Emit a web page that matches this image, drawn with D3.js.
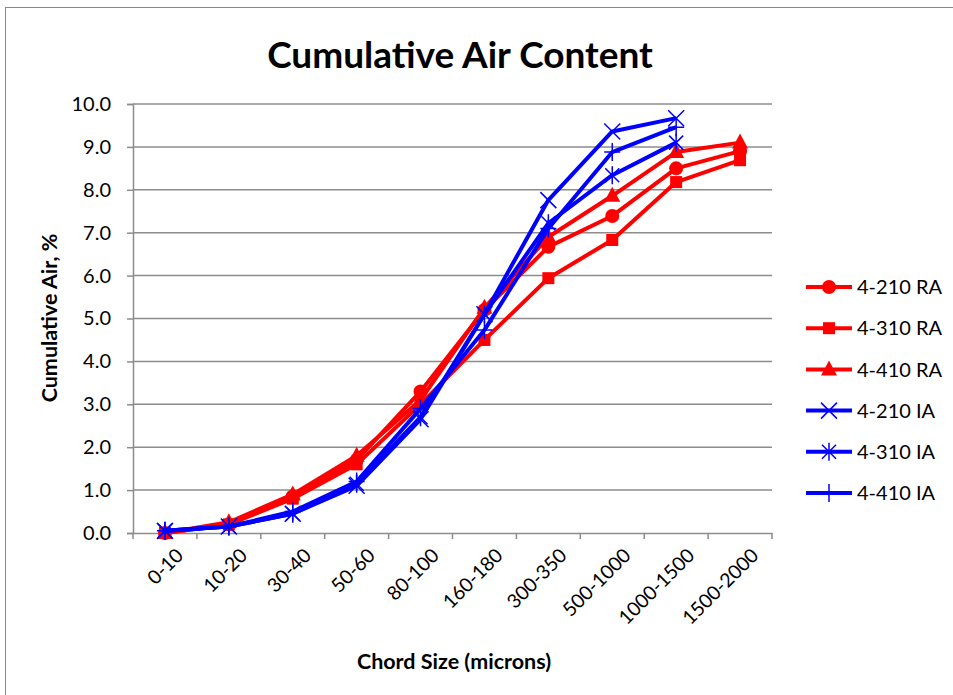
<!DOCTYPE html>
<html>
<head>
<meta charset="utf-8">
<script src="https://cdn.jsdelivr.net/npm/d3@7"></script>
<style>
  body { margin: 0; background: #fff; }
  svg { font-family: Lato, "Open Sans", sans-serif; }
</style>
</head>
<body>
<svg width="953" height="695"></svg>
<script>
var categories = ["0-10", "10-20", "30-40", "50-60", "80-100", "160-180", "300-350", "500-1000", "1000-1500", "1500-2000"];
var ra210 = [0.0, 0.2, 0.85, 1.7, 3.3, 5.2, 6.67, 7.39, 8.5, 8.9];
var ra310 = [0.0, 0.2, 0.8, 1.6, 3.0, 4.5, 5.94, 6.83, 8.18, 8.69];
var ra410 = [0.0, 0.25, 0.9, 1.8, 3.1, 5.25, 6.9, 7.86, 8.88, 9.1];
var ia210 = [0.05, 0.15, 0.45, 1.1, 2.65, 5.1, 7.76, 9.36, 9.67];
var ia310 = [0.05, 0.15, 0.45, 1.15, 2.7, 5.1, 7.22, 8.34, 9.1];
var ia410 = [0.05, 0.15, 0.5, 1.2, 2.9, 4.73, 7.1, 8.88, 9.46];
var yTicks = [0, 1, 2, 3, 4, 5, 6, 7, 8, 9, 10];

var series = [
    {name: "4-210 RA", values: ra210, color: "#ff0000", marker: "circle"},
    {name: "4-310 RA", values: ra310, color: "#ff0000", marker: "square"},
    {name: "4-410 RA", values: ra410, color: "#ff0000", marker: "triangle"},
    {name: "4-210 IA", values: ia210, color: "#0000ff", marker: "x"},
    {name: "4-310 IA", values: ia310, color: "#0000ff", marker: "star"},
    {name: "4-410 IA", values: ia410, color: "#0000ff", marker: "plus"}
];

var svg = d3.select("svg");
var plotLeft = 133, plotRight = 772, plotTop = 104, plotBottom = 533;

// outer frame
svg.append("rect").attr("x", 5.5).attr("y", 7.5).attr("width", 960).attr("height", 700)
    .attr("fill", "none").attr("stroke", "#888").attr("stroke-width", 1);

var x = d3.scaleBand().domain(categories).range([plotLeft, plotRight]);
var y = d3.scaleLinear().domain([0, 10]).range([plotBottom, plotTop]);

// gridlines
svg.append("g").selectAll("line").data(yTicks.slice(1)).enter().append("line")
    .attr("x1", plotLeft).attr("x2", plotRight)
    .attr("y1", d => y(d)).attr("y2", d => y(d))
    .attr("stroke", "#8c8c8c").attr("stroke-width", 1.5);

// y axis
var yAxis = svg.append("g").attr("transform", "translate(" + plotLeft + ",0)")
    .call(d3.axisLeft(y).tickValues(yTicks).tickFormat(d3.format(".1f")).tickSize(6).tickPadding(16));
yAxis.select(".domain").attr("stroke", "#8c8c8c").attr("stroke-width", 1.5);
yAxis.selectAll(".tick line").attr("stroke", "#8c8c8c").attr("stroke-width", 1.5);
yAxis.selectAll("text").attr("font-size", 20).attr("fill", "#000").attr("font-family", "Lato, sans-serif");

// x axis
var xAxis = svg.append("g").attr("transform", "translate(0," + plotBottom + ")")
    .call(d3.axisBottom(x).tickSize(0).tickSizeOuter(0).tickFormat(""));
xAxis.select(".domain").attr("stroke", "#8c8c8c").attr("stroke-width", 1.5);
xAxis.selectAll(".tick").remove();
svg.append("g").selectAll("line").data(categories.concat(["end"])).enter().append("line")
    .attr("x1", (d, i) => plotLeft + i * x.step()).attr("x2", (d, i) => plotLeft + i * x.step())
    .attr("y1", plotBottom).attr("y2", plotBottom + 6)
    .attr("stroke", "#8c8c8c").attr("stroke-width", 1.5);

svg.append("g").selectAll("text").data(categories).enter().append("text")
    .attr("transform", d => "translate(" + (x(d) + x.bandwidth() / 2 + 10) + "," + (plotBottom + 14) + ") rotate(-45)")
    .attr("text-anchor", "end").attr("dy", "0.7em")
    .attr("font-size", 19.5).text(d => d);

// lines
var line = d3.line().x((d, i) => x(categories[i]) + x.bandwidth() / 2).y(d => y(d));

function marker(g, type, color) {
    if (type === "circle") {
        g.append("circle").attr("r", 7).attr("fill", color);
    } else if (type === "square") {
        g.append("rect").attr("x", -6).attr("y", -6).attr("width", 12).attr("height", 12).attr("fill", color);
    } else if (type === "triangle") {
        g.append("path").attr("d", "M0,-9L8,6L-8,6Z").attr("fill", color);
    } else if (type === "x") {
        g.append("path").attr("d", "M-8,-8L8,8M-8,8L8,-8").attr("stroke", color).attr("stroke-width", 1.5);
    } else if (type === "star") {
        g.append("path").attr("d", "M-7,-7L7,7M-7,7L7,-7M0,-9L0,9").attr("stroke", color).attr("stroke-width", 1.5);
    } else if (type === "plus") {
        g.append("path").attr("d", "M0,-9L0,9M-8,0L8,0").attr("stroke", color).attr("stroke-width", 1.5);
    }
}

series.forEach(function (s) {
    svg.append("path").datum(s.values)
        .attr("d", line).attr("fill", "none")
        .attr("stroke", s.color).attr("stroke-width", 4).attr("stroke-linejoin", "round");
    s.values.forEach(function (v, i) {
        var g = svg.append("g").attr("transform", "translate(" + (x(categories[i]) + x.bandwidth() / 2) + "," + y(v) + ")");
        marker(g, s.marker, s.color);
    });
});

// legend
var legend = svg.append("g");
series.forEach(function (s, i) {
    var ly = 287 + i * 41.2;
    legend.append("line").attr("x1", 806).attr("x2", 852).attr("y1", ly).attr("y2", ly)
        .attr("stroke", s.color).attr("stroke-width", 4);
    marker(legend.append("g").attr("transform", "translate(829," + ly + ")"), s.marker, s.color);
    legend.append("text").attr("x", 857).attr("y", ly).attr("dy", "0.36em")
        .attr("font-size", 20).text(s.name);
});

// titles
svg.append("text").attr("x", 460).attr("y", 68).attr("text-anchor", "middle")
    .attr("font-size", 37).attr("font-weight", "bold").text("Cumulative Air Content");
svg.append("text").attr("transform", "translate(57,318) rotate(-90)").attr("text-anchor", "middle")
    .attr("font-size", 21.5).attr("font-weight", "bold").text("Cumulative Air, %");
svg.append("text").attr("x", 454).attr("y", 669).attr("text-anchor", "middle")
    .attr("font-size", 21.5).attr("font-weight", "bold").text("Chord Size (microns)");
</script>
</body>
</html>
